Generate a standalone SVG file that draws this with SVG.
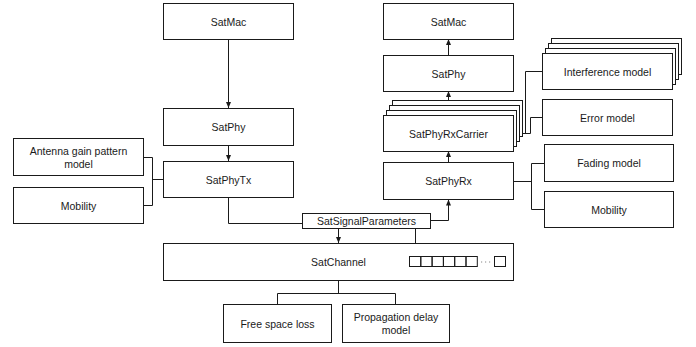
<svg xmlns="http://www.w3.org/2000/svg" width="696" height="347" viewBox="0 0 696 347">
<style>
.b{fill:#fff;stroke:#1a1a1a;stroke-width:1}
.t{font-family:"Liberation Sans",Arial,sans-serif;font-size:10.5px;fill:#1a1a1a;text-anchor:middle;dominant-baseline:central}
.c{fill:none;stroke:#1a1a1a;stroke-width:1}
</style>
<defs>
<marker id="ah" markerWidth="6" markerHeight="5" refX="6" refY="2.5" orient="auto" markerUnits="userSpaceOnUse">
<path d="M0,0 L6,2.5 L0,5 Z" fill="#1a1a1a"/>
</marker>
</defs>
<rect width="696" height="347" fill="#fff"/>
<g id="connectors">
<path class="c" d="M228.5,39.5 V108" marker-end="url(#ah)"/>
<path class="c" d="M228.5,145.5 V161" marker-end="url(#ah)"/>
<path class="c" d="M143.5,157.5 H152.5 V205.5 H143.5 M152.5,179.5 H163.5"/>
<path class="c" d="M228.5,197.5 V223.5 H302.5"/>
<path class="c" d="M338.5,228.5 V243" marker-end="url(#ah)"/>
<path class="c" d="M430.5,220.5 H448.5 V199.5" marker-end="url(#ah)"/>
<path class="c" d="M415.5,228.5 V256.5"/>
<path class="c" d="M338.5,280.5 V293.5 M277.5,304.5 V293.5 H395.5 V304.5"/>
<path class="c" d="M448.5,162.5 V151" marker-end="url(#ah)"/>
<path class="c" d="M448.5,115.5 V91" marker-end="url(#ah)"/>
<path class="c" d="M448.5,55.5 V39" marker-end="url(#ah)"/>
<path class="c" d="M513.5,181.5 H531.5 M531.5,163.5 V209.5 M531.5,163.5 H544.5 M531.5,209.5 H544.5"/>
<path class="c" d="M513.5,133.5 H530.5 V117.5 H542.5 M525.5,133.5 V71.5 H542.5"/>
</g>
<g id="satmac-tx">
<rect class="b" x="163.5" y="3.5" width="130" height="36"/>
<text class="t" x="228.5" y="21.5">SatMac</text>
</g>
<g id="satphy-tx">
<rect class="b" x="163.5" y="108.5" width="130" height="37"/>
<text class="t" x="228.5" y="127">SatPhy</text>
</g>
<g id="satphytx">
<rect class="b" x="163.5" y="161.5" width="130" height="36"/>
<text class="t" x="228.5" y="179.5">SatPhyTx</text>
</g>
<g id="antenna">
<rect class="b" x="13.5" y="138.5" width="130" height="37"/>
<text class="t" x="78.5" y="150.5">Antenna gain pattern</text>
<text class="t" x="78.5" y="163.5">model</text>
</g>
<g id="mobility-tx">
<rect class="b" x="13.5" y="187.5" width="130" height="36"/>
<text class="t" x="78.5" y="205.5">Mobility</text>
</g>
<g id="satsignalparameters">
<rect class="b" x="302.5" y="213.5" width="128" height="15"/>
<text class="t" x="366.5" y="221">SatSignalParameters</text>
</g>
<g id="satchannel">
<rect class="b" x="163.5" y="243.5" width="350" height="37"/>
<text class="t" x="338.5" y="262">SatChannel</text>
<g class="c">
<rect x="409.5" y="256.5" width="11.3" height="10"/>
<rect x="420.8" y="256.5" width="11.3" height="10"/>
<rect x="432.1" y="256.5" width="11.3" height="10"/>
<rect x="443.4" y="256.5" width="11.3" height="10"/>
<rect x="454.7" y="256.5" width="11.3" height="10"/>
<rect x="466" y="256.5" width="11.3" height="10"/>
<rect x="494.5" y="256.5" width="11" height="10"/>
</g>
<path d="M481,262 h1.2 M485,262 h1.2 M489,262 h1.2" stroke="#888" stroke-width="1"/>
</g>
<g id="freespace">
<rect class="b" x="223.5" y="304.5" width="108" height="38"/>
<text class="t" x="277.5" y="323.5">Free space loss</text>
</g>
<g id="propagation">
<rect class="b" x="342.5" y="304.5" width="107" height="38"/>
<text class="t" x="396" y="317">Propagation delay</text>
<text class="t" x="396" y="330">model</text>
</g>
<g id="satmac-rx">
<rect class="b" x="383.5" y="3.5" width="130" height="36"/>
<text class="t" x="448.5" y="21.5">SatMac</text>
</g>
<g id="satphy-rx">
<rect class="b" x="383.5" y="55.5" width="130" height="36"/>
<text class="t" x="448.5" y="73.5">SatPhy</text>
</g>
<g id="satphyrxcarrier">
<rect class="b" x="392.5" y="100.5" width="130" height="36"/>
<rect class="b" x="389.5" y="105.5" width="130" height="36"/>
<rect class="b" x="386.5" y="110.5" width="130" height="36"/>
<rect class="b" x="383.5" y="115.5" width="130" height="36"/>
<text class="t" x="448.5" y="133.5">SatPhyRxCarrier</text>
</g>
<g id="satphyrx">
<rect class="b" x="383.5" y="162.5" width="130" height="37"/>
<text class="t" x="448.5" y="181">SatPhyRx</text>
</g>
<g id="interference">
<rect class="b" x="551.5" y="38.5" width="130" height="36"/>
<rect class="b" x="548.5" y="43.5" width="130" height="36"/>
<rect class="b" x="545.5" y="48.5" width="130" height="36"/>
<rect class="b" x="542.5" y="53.5" width="130" height="36"/>
<text class="t" x="607.5" y="71.5">Interference model</text>
</g>
<g id="error">
<rect class="b" x="542.5" y="99.5" width="130" height="36"/>
<text class="t" x="607.5" y="117.5">Error model</text>
</g>
<g id="fading">
<rect class="b" x="544.5" y="144.5" width="129" height="37"/>
<text class="t" x="609" y="163">Fading model</text>
</g>
<g id="mobility-rx">
<rect class="b" x="544.5" y="191.5" width="129" height="36"/>
<text class="t" x="609" y="209.5">Mobility</text>
</g>
</svg>
